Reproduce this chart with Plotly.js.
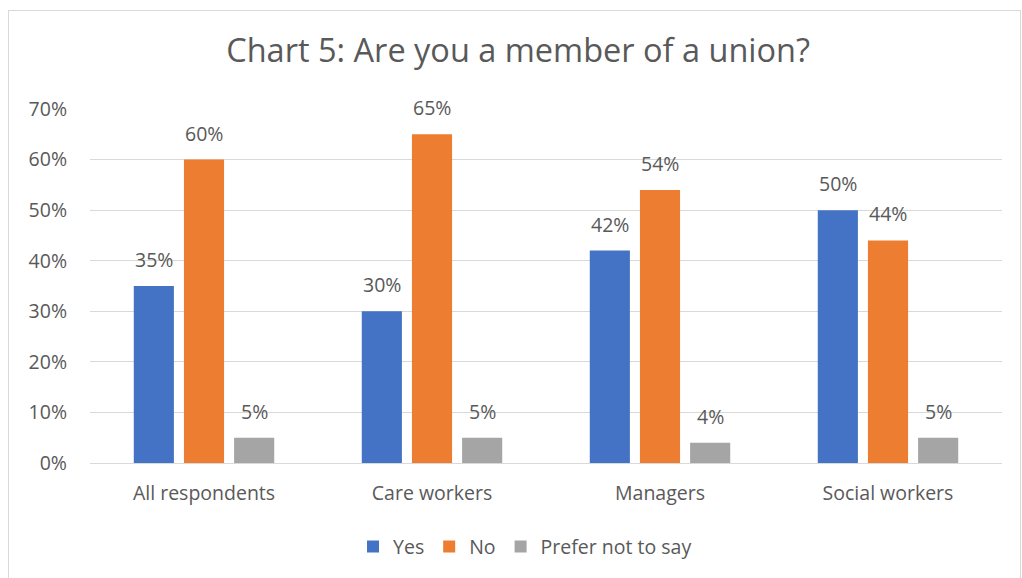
<!DOCTYPE html>
<html><head><meta charset="utf-8">
<script src="https://cdn.plot.ly/plotly-3.0.1.min.js"></script>
<style>
html,body{margin:0;padding:0;background:#fff;}
#wrap{position:relative;width:1022px;height:578px;overflow:hidden;}
#chart{position:absolute;left:0;top:0;width:1022px;height:578px;}
#frame{position:absolute;left:8px;top:10px;width:1011px;height:620px;border:1px solid #d9d9d9;pointer-events:none;}
</style></head>
<body><div id="wrap"><div id="chart"></div><div id="frame"></div></div>
<script>
const categories = ["All respondents", "Care workers", "Managers", "Social workers"];
const yesValues = [0.35, 0.30, 0.42, 0.50];
const noValues = [0.60, 0.65, 0.54, 0.44];
const preferValues = [0.05, 0.05, 0.04, 0.05];
const seriesNames = ["Yes", "No", "Prefer not to say"];
const yTicks = [0, 0.1, 0.2, 0.3, 0.4, 0.5, 0.6, 0.7];

const colors = ["#4472C4", "#ED7D31", "#A5A5A5"];
const seriesData = [yesValues, noValues, preferValues];
const font = "'Open Sans', sans-serif";

const traces = seriesData.map((vals, i) => ({
  type: "bar", name: seriesNames[i], x: categories, y: vals,
  marker: {color: colors[i]}, hoverinfo: "skip"
}));

const shifts = [-50, 0, 50];
const annotations = [];
seriesData.forEach((vals, i) => {
  vals.forEach((v, j) => {
    annotations.push({
      x: categories[j], y: v, xref: "x", yref: "y",
      text: Math.round(v * 100) + "%", showarrow: false,
      xshift: shifts[i], yshift: 11, yanchor: "bottom",
      font: {family: font, size: 19.5, color: "#595959"}
    });
  });
});

const layout = {
  width: 1022, height: 578,
  margin: {l: 90, r: 20, t: 109, b: 115},
  paper_bgcolor: "#fff", plot_bgcolor: "#fff",
  font: {family: font, size: 19.5, color: "#595959"},
  title: {text: "Chart 5: Are you a member of a union?", x: 0.507, xref: "container", y: 0.912, yanchor: "middle",
          font: {family: font, size: 32.5, color: "#595959"}},
  barmode: "group", bargap: 0.34, bargroupgap: 0.2,
  xaxis: {showline: true, linecolor: "#d9d9d9", linewidth: 1, showgrid: false,
          ticks: "", ticklabelstandoff: 13, tickfont: {family: font, size: 19.5, color: "#595959"}},
  yaxis: {range: [0, 0.7], tickvals: yTicks, tickformat: ".0%", showgrid: true, gridcolor: "#d9d9d9",
          zeroline: false, showline: false, ticks: "", ticklabelstandoff: 22,
          tickfont: {family: font, size: 19.5, color: "#595959"}},
  showlegend: true,
  legend: {orientation: "h", x: 0.477, xanchor: "center", y: -0.237, yanchor: "middle",
           font: {family: font, size: 19.5, color: "#595959"}, itemwidth: 30, traceorder: "normal"},
  annotations: annotations
};

Plotly.newPlot("chart", traces, layout, {displayModeBar: false, staticPlot: true});
</script></body></html>
